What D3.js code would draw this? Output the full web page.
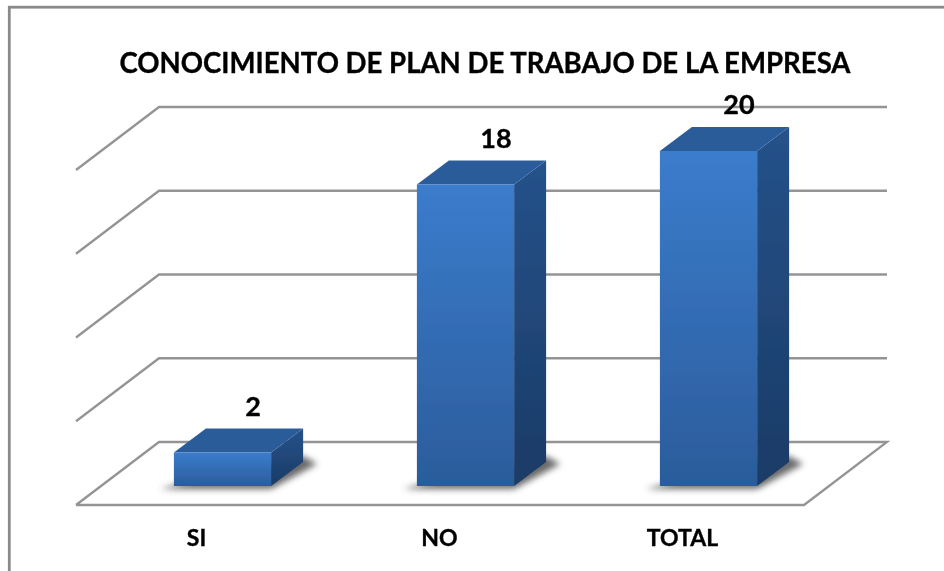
<!DOCTYPE html>
<html><head><meta charset="utf-8">
<script src="https://cdn.jsdelivr.net/npm/d3@7"></script>
<style>html,body{margin:0;padding:0;background:#fff}svg{display:block}text{font-family:Lato,"Open Sans",sans-serif;font-weight:700;fill:#000;stroke:#000;stroke-width:.35}</style>
</head><body><svg id="c" width="944" height="571"></svg>
<script>
const categories = ["SI", "NO", "TOTAL"];
const values = [2, 18, 20];
const gridValues = [0, 5, 10, 15, 20];
const title = "CONOCIMIENTO DE PLAN DE TRABAJO DE LA EMPRESA";

const svg = d3.select("#c");
const defs = svg.append("defs");
const grad = (id, a, b) => {
  const g = defs.append("linearGradient").attr("id", id).attr("x1",0).attr("y1",0).attr("x2",0).attr("y2",1);
  g.append("stop").attr("offset",0).attr("stop-color",a);
  g.append("stop").attr("offset",1).attr("stop-color",b);
};
grad("front", "#3b7ccc", "#2b5c9b");
grad("side", "#25528a", "#1b3b66");
defs.append("filter").attr("id","blur").attr("x","-30%").attr("y","-60%").attr("width","160%").attr("height","220%")
  .append("feGaussianBlur").attr("stdDeviation",3.2);
defs.append("filter").attr("id","soft").append("feGaussianBlur").attr("stdDeviation",0.45);

// frame
svg.append("rect").attr("x",9.3).attr("y",7.2).attr("width",960).attr("height",600)
  .attr("fill","#fff").attr("stroke","#8a8a8a").attr("stroke-width",2.8);

const y = d3.scaleLinear().domain([0,20]).range([505,170]);
const x = d3.scaleBand().domain(categories).range([101,830]).paddingInner(0.6).paddingOuter(0.3);
const floorX0 = 76, floorX1 = 804, wallDx = 83, wallDy = -63;
const barLift = 19, dx = 32, dy = -24;
const line = d3.line();

const root = svg.append("g").attr("filter","url(#soft)");
const gridG = root.append("g").attr("fill","none").attr("stroke","#949494").attr("stroke-width",2.3);
// floor outline
gridG.append("path").attr("d", line([
  [floorX0, y(0)], [floorX1, y(0)], [floorX1+wallDx, y(0)+wallDy], [floorX0+wallDx, y(0)+wallDy], [floorX0, y(0)]
]));
gridG.selectAll("path.g").data(gridValues.slice(1)).join("path").attr("class","g")
  .attr("d", v => line([[floorX0, y(v)], [floorX0+wallDx, y(v)+wallDy], [floorX1+wallDx, y(v)+wallDy]]));

const bars = root.selectAll("g.bar").data(categories.map((c,i)=>({c,v:values[i]}))).join("g").attr("class","bar");
bars.each(function(d){
  const g = d3.select(this);
  const l = x(d.c), r = l + x.bandwidth(), b = y(0)-barLift, t = y(d.v)-barLift;
  g.append("path").attr("filter","url(#blur)").attr("fill","#444").attr("opacity",.8)
    .attr("d", line([[l-14,b+3],[r,b+3],[r+dx+14,b+dy+2],[r+dx,b+dy-6],[l+20,b-6]])+"Z");
  g.append("path").attr("fill","url(#side)").attr("d", line([[r,b],[r+dx,b+dy],[r+dx,t+dy],[r,t]])+"Z");
  g.append("path").attr("fill","#2a5c9a").attr("d", line([[l,t],[l+dx,t+dy],[r+dx,t+dy],[r,t]])+"Z");
  g.append("rect").attr("x",l).attr("y",t).attr("width",x.bandwidth()).attr("height",b-t).attr("fill","url(#front)");
  g.append("text").attr("x",l+x.bandwidth()/2+30.5).attr("y",t+dy-13).attr("text-anchor","middle")
    .attr("font-size",27).text(d.v);
  g.append("text").attr("x",l+x.bandwidth()/2-26).attr("y",546).attr("text-anchor","middle")
    .attr("font-size",23).text(d.c);
});
root.append("text").attr("x",485).attr("y",73).attr("text-anchor","middle").attr("font-size",29)
  .attr("textLength",731).attr("lengthAdjust","spacingAndGlyphs").text(title);
</script></body></html>
